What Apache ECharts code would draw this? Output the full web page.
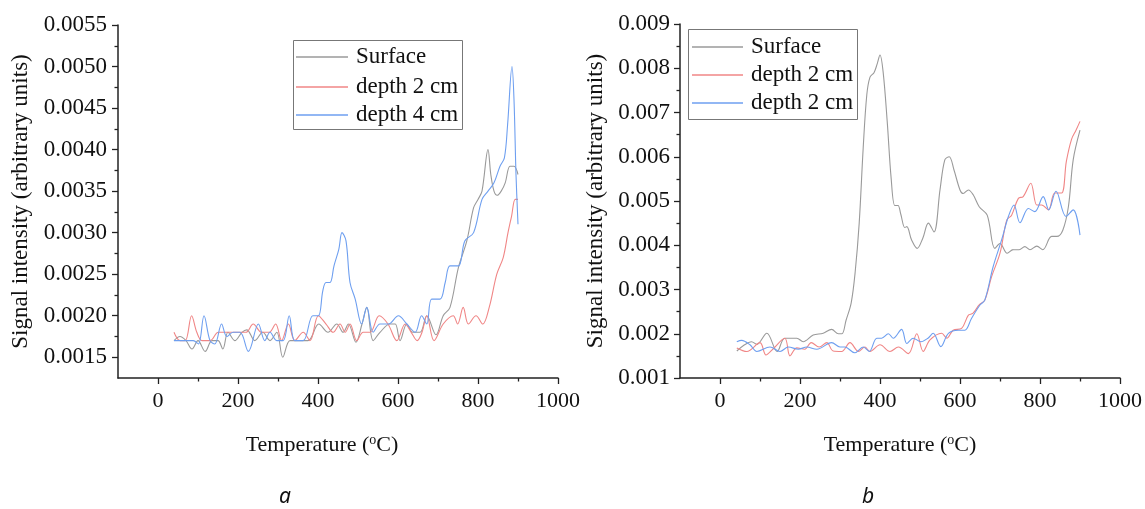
<!DOCTYPE html>
<html>
<head>
<meta charset="utf-8">
<script src="https://cdn.jsdelivr.net/npm/echarts@6/dist/echarts.min.js"></script>
<style>
html,body{margin:0;padding:0;background:#fff;}
#c{width:1145px;height:509px;}
</style>
</head>
<body>
<div id="c"></div>
<script>
// ---------- Panel a ----------
const aSurfT = [40,55,70,85,100,118,135,150,162,175,192,210,222,242,262,280,297,312,330,350,375,402,425,447,463,476,495,510,522,538,555,580,593,605,622,637,655,672,695,713,730,751,772,789,800,810,825,832,840,848,858,868,880,890,900];
const aSurfV = [0.0017,0.00175,0.0017,0.0016,0.0017,0.00157,0.0017,0.0017,0.0016,0.0018,0.0017,0.0018,0.00183,0.0017,0.0018,0.0017,0.0018,0.0015,0.0017,0.0017,0.0017,0.0019,0.0018,0.0019,0.0018,0.0019,0.00168,0.0019,0.0021,0.0017,0.0018,0.0019,0.0019,0.0017,0.0019,0.0018,0.0018,0.0020,0.00177,0.0020,0.0021,0.00258,0.0029,0.0033,0.0034,0.0035,0.0040,0.0037,0.0035,0.00345,0.0035,0.0036,0.0038,0.0038,0.0037];

const a2T = [40,55,68,84,97,110,130,151,175,200,220,238,259,278,294,309,326,342,363,380,401,420,438,455,468,480,497,513,530,553,575,597,618,633,648,660,672,690,713,738,749,763,776,795,812,828,847,863,875,884,893,900];
const a2V = [0.0018,0.0017,0.0017,0.0020,0.0018,0.0017,0.0017,0.0018,0.0018,0.0018,0.0018,0.0019,0.0018,0.0018,0.0019,0.0017,0.0019,0.0017,0.0018,0.0017,0.0020,0.0019,0.0018,0.0019,0.0018,0.0019,0.0017,0.0018,0.0018,0.0020,0.0019,0.0017,0.0019,0.0018,0.0017,0.0018,0.0020,0.0017,0.0019,0.0020,0.0019,0.0021,0.0019,0.0020,0.0019,0.0021,0.0025,0.0027,0.0030,0.0032,0.0034,0.0034];

const a4T = [40,55,70,88,101,115,130,142,159,172,188,205,226,251,267,280,297,313,328,342,363,387,401,412,420,430,440,452,460,470,480,493,509,522,538,555,576,601,622,643,659,672,684,705,718,730,751,767,789,810,825,840,855,866,874,885,890,895,900];
const a4V = [0.0017,0.0017,0.0017,0.0017,0.00166,0.0020,0.0017,0.00166,0.0019,0.00175,0.0018,0.0018,0.00157,0.0019,0.0017,0.0018,0.0017,0.0017,0.0020,0.0017,0.0017,0.0020,0.0020,0.0023,0.0024,0.0024,0.0026,0.0028,0.0030,0.0029,0.0024,0.0022,0.0019,0.0021,0.0018,0.0019,0.0019,0.0020,0.0019,0.0018,0.0020,0.0019,0.0022,0.0022,0.0024,0.0026,0.0026,0.0029,0.0030,0.0034,0.0035,0.0036,0.0038,0.0039,0.0043,0.0050,0.0046,0.0037,0.0031];

// ---------- Panel b ----------
const bSurfT = [42,58,79,92,117,143,162,192,208,233,258,279,296,305,315,328,338,348,358,367,375,385,393,400,408,418,428,437,445,452,462,467,479,493,507,521,535,550,562,573,585,600,608,621,633,648,668,687,700,718,733,748,762,775,792,807,829,842,857,871,883,900];
const bSurfV = [0.00161,0.00173,0.00182,0.00176,0.00201,0.0016,0.0019,0.0019,0.00182,0.00197,0.00201,0.0021,0.0020,0.0020,0.0023,0.0027,0.0034,0.0045,0.0062,0.0074,0.0078,0.0079,0.0081,0.0083,0.0079,0.0068,0.0055,0.0049,0.0049,0.0047,0.0044,0.00442,0.00412,0.00393,0.00416,0.0045,0.0043,0.00525,0.00593,0.0060,0.0057,0.00525,0.00517,0.00525,0.00514,0.00487,0.00468,0.00393,0.00404,0.00382,0.0039,0.0039,0.00397,0.0039,0.00398,0.0039,0.0042,0.0042,0.00434,0.00487,0.00593,0.0066];

const b2T = [42,67,100,115,132,162,175,192,212,228,248,267,283,304,325,346,362,375,400,425,446,471,492,508,525,554,567,583,604,621,632,648,662,679,700,717,729,746,758,777,792,804,821,837,854,866,879,890,900];
const b2V = [0.00168,0.0016,0.0018,0.00152,0.00165,0.0019,0.0015,0.00168,0.00165,0.0018,0.0017,0.0018,0.00161,0.0016,0.0018,0.0016,0.0017,0.0016,0.00175,0.0016,0.0017,0.00155,0.0020,0.0016,0.00186,0.00201,0.0019,0.00208,0.00212,0.00242,0.00246,0.00265,0.00276,0.00329,0.00382,0.00457,0.00468,0.00506,0.0051,0.0054,0.00491,0.00491,0.0048,0.00518,0.00518,0.0059,0.0064,0.0066,0.0068];

const b2bT = [42,54,75,92,125,150,171,196,217,242,279,300,312,337,358,373,392,404,421,433,454,467,483,502,520,533,552,571,596,612,629,650,662,683,704,721,735,750,771,787,808,822,840,865,883,900];
const b2bV = [0.00182,0.00185,0.00175,0.0016,0.0017,0.0016,0.0017,0.00165,0.0017,0.00165,0.0018,0.0017,0.0017,0.00157,0.0017,0.0016,0.0019,0.0019,0.0020,0.0019,0.0021,0.00178,0.0019,0.00182,0.0019,0.00201,0.00171,0.00201,0.00208,0.00208,0.00235,0.00265,0.00276,0.00352,0.00412,0.00465,0.00491,0.00451,0.00483,0.00476,0.0051,0.0048,0.00522,0.00465,0.0048,0.00423];

// ---------- ticks ----------
const xMajor = [0,200,400,600,800,1000];
const xMinor = [100,300,500,700,900];
const aYMajor = [0.0015,0.0020,0.0025,0.0030,0.0035,0.0040,0.0045,0.0050,0.0055];
const aYMinor = [0.00175,0.00225,0.00275,0.00325,0.00375,0.00425,0.00475,0.00525];
const bYMajor = [0.001,0.002,0.003,0.004,0.005,0.006,0.007,0.008,0.009];
const bYMinor = [0.0015,0.0025,0.0035,0.0045,0.0055,0.0065,0.0075,0.0085];

const namesA = ['Surface','depth 2 cm','depth 4 cm'];
const namesB = ['Surface','depth 2 cm','depth 2 cm'];

const SERIF = '"Liberation Serif", "Times New Roman", serif';
const GRAY = '#9a9a9a', RED = '#f08686', BLUE = '#6e9ff0';
const COLORS = [GRAY, RED, BLUE];
const FS = 22, FSY = 23;

function pairs(t, v){ return t.map((x,i)=>[x, v[i]]); }

function xAxes(grid, nameStyle){
  return [
    { type:'value', gridIndex:grid, min:-100, max:1000, position:'bottom',
      axisLine:{show:true, onZero:false, lineStyle:{color:'#222', width:1.5}},
      axisTick:{show:true, customValues:xMajor, length:6, lineStyle:{color:'#222', width:1.3}},
      axisLabel:{show:true, customValues:xMajor, margin:12, fontFamily:SERIF, fontSize:FS, color:'#111',
        formatter: v => String(Math.round(v))},
      splitLine:{show:false},
      name:'{t|Temperature (}{s|o}{t|C)}', nameLocation:'middle', nameGap:54,
      nameTextStyle: Object.assign({rich:{
        t:{fontFamily:SERIF, fontSize:FS, color:'#111', lineHeight:26},
        s:{fontFamily:SERIF, fontSize:14, color:'#111', verticalAlign:'top', lineHeight:14, padding:[1,0,0,0]}
      }}, nameStyle)
    },
    { type:'value', gridIndex:grid, min:-100, max:1000, position:'bottom',
      axisLine:{show:false, onZero:false}, axisLabel:{show:false}, splitLine:{show:false},
      axisTick:{show:true, customValues:xMinor, length:3.5, lineStyle:{color:'#222', width:1.3}}
    }
  ];
}

function yAxes(grid, min, max, major, minor, dec, gap, margin){
  return [
    { type:'value', gridIndex:grid, min:min, max:max, position:'left',
      axisLine:{show:true, onZero:false, lineStyle:{color:'#222', width:1.5}},
      axisTick:{show:true, customValues:major, length:6, lineStyle:{color:'#222', width:1.3}},
      axisLabel:{show:true, customValues:major, margin:margin, fontFamily:SERIF, fontSize:FSY, color:'#111',
        formatter: v => Number(v).toFixed(dec)},
      splitLine:{show:false},
      name:'Signal intensity (arbitrary units)', nameLocation:'middle', nameGap:gap,
      nameTextStyle:{fontFamily:SERIF, fontSize:FSY, color:'#111'}
    },
    { type:'value', gridIndex:grid, min:min, max:max, position:'left',
      axisLine:{show:false, onZero:false}, axisLabel:{show:false}, splitLine:{show:false},
      axisTick:{show:true, customValues:minor, length:3.5, lineStyle:{color:'#222', width:1.3}}
    }
  ];
}

function line(name, t, v, color, xi, yi){
  return { type:'line', name:name, data:pairs(t,v), xAxisIndex:xi, yAxisIndex:yi,
    smooth:0.35, symbol:'none', showSymbol:false, animation:false,
    lineStyle:{color:color, width:1.1}, itemStyle:{color:color} };
}

// legend box drawn as graphic elements (box, key lines, labels)
function legendBox(names, bx, by, bw, bh, lx1, lx2, tx, rows){
  const els = [{type:'rect', z:100, shape:{x:bx+0.5, y:by+0.5, width:bw, height:bh},
    style:{fill:'#fff', stroke:'#777', lineWidth:1}}];
  names.forEach((n,i) => {
    els.push({type:'line', z:101, shape:{x1:lx1, y1:rows[i], x2:lx2, y2:rows[i]},
      style:{stroke:COLORS[i], lineWidth:1.6}});
    els.push({type:'text', z:101, x:tx, y:rows[i],
      style:{text:n, font:'23px ' + SERIF, fill:'#111', verticalAlign:'middle', align:'left'}});
  });
  return els;
}

const chart = echarts.init(document.getElementById('c'), null, {renderer:'canvas'});
chart.setOption({
  animation:false,
  backgroundColor:'#fff',
  grid:[
    {left:118, top:25, width:440, height:353},
    {left:680, top:24, width:440, height:354}
  ],
  xAxis: xAxes(0, {padding:[0,32,0,0]}).concat(xAxes(1, {})),
  yAxis: yAxes(0, 0.00125, 0.0055, aYMajor, aYMinor, 4, 86, 11)
    .concat(yAxes(1, 0.001, 0.009, bYMajor, bYMinor, 3, 73, 10)),
  series:[
    line('a ' + namesA[0], aSurfT, aSurfV, GRAY, 0, 0),
    line('a ' + namesA[1], a2T, a2V, RED, 0, 0),
    line('a ' + namesA[2], a4T, a4V, BLUE, 0, 0),
    line('b ' + namesB[0], bSurfT, bSurfV, GRAY, 2, 2),
    line('b ' + namesB[1], b2T, b2V, RED, 2, 2),
    line('b ' + namesB[2] + ' (2)', b2bT, b2bV, BLUE, 2, 2)
  ],
  graphic: legendBox(namesA, 293, 40, 169, 89, 296, 348, 356, [57, 87, 115])
    .concat(legendBox(namesB, 688, 29, 169, 90, 692, 743, 751, [47, 75, 103]))
    .concat([
      {type:'text', left:279, top:487, style:{text:'a', font:'italic 21px "Noto Sans"', fill:'#111'}},
      {type:'text', left:862, top:487, style:{text:'b', font:'italic 21px "Noto Sans"', fill:'#111'}}
    ])
});
</script>
</body>
</html>
